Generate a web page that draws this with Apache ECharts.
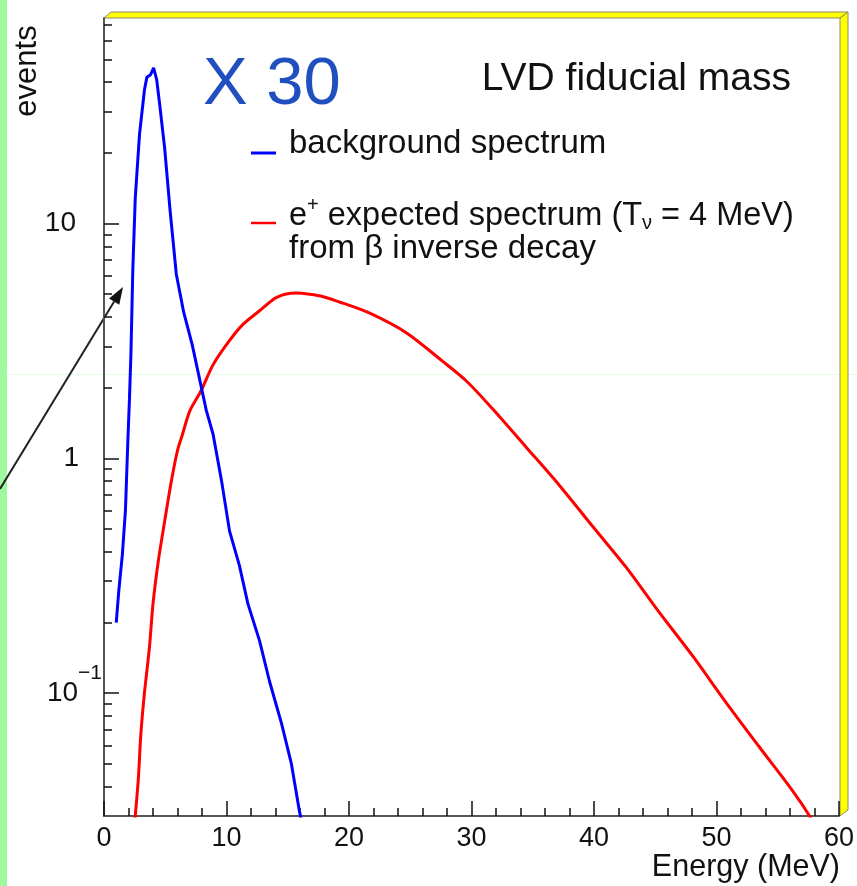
<!DOCTYPE html>
<html>
<head>
<meta charset="utf-8">
<script src="https://cdn.jsdelivr.net/npm/echarts@6/dist/echarts.min.js"></script>
<style>
  html, body { margin: 0; background: #fff; }
  #chart { width: 857px; height: 886px; }
</style>
</head>
<body>
<div id="chart"></div>
<script>
// background spectrum (blue)
const bgEnergy = [1.0, 1.2, 1.5, 1.75, 1.95, 2.08, 2.2, 2.35, 2.55, 2.9, 3.3, 3.5, 3.8, 4.05, 4.3, 4.55, 4.95, 5.4, 5.9, 6.5, 7.2, 7.9, 8.35, 8.9, 9.6, 10.25, 11.05, 11.75, 12.7, 13.5, 14.5, 15.3, 15.95, 16.3];
const bgEvents = [0.20, 0.27, 0.39, 0.6, 1.2, 1.8, 2.8, 6.3, 12.8, 24, 37, 42, 43, 46, 41, 32, 21, 11.3, 6.1, 4.2, 3.05, 2.06, 1.6, 1.27, 0.80, 0.49, 0.35, 0.24, 0.167, 0.113, 0.074, 0.050, 0.0315, 0.026];

// e+ expected spectrum (red)
const sigEnergy = [2.5, 2.8, 3.0, 3.3, 3.7, 4.0, 4.4, 4.9, 5.5, 6.0, 6.4, 7.0, 7.9, 8.9, 10.0, 11.3, 12.7, 14.1, 15.7, 16.8, 17.9, 19.5, 21.7, 24.7, 27.6, 29.6, 31.7, 34.5, 37.2, 40.0, 42.6, 45.3, 48.1, 50.8, 53.5, 56.2, 57.6, 58.2];
const sigEvents = [0.028, 0.043, 0.066, 0.10, 0.155, 0.24, 0.355, 0.52, 0.80, 1.08, 1.26, 1.59, 1.93, 2.5, 3.05, 3.7, 4.25, 4.85, 5.06, 5.0, 4.88, 4.58, 4.15, 3.42, 2.6, 2.13, 1.63, 1.11, 0.765, 0.505, 0.345, 0.222, 0.143, 0.091, 0.059, 0.0385, 0.030, 0.026];

// axis ticks
const yMajorTicks = [0.1, 1, 10];
const yMinorTicks = [0.04, 0.05, 0.06, 0.07, 0.08, 0.09, 0.2, 0.3, 0.4, 0.5, 0.6, 0.7, 0.8, 0.9, 2, 3, 4, 5, 6, 7, 8, 9, 20, 30, 40, 50, 60, 70];

const FONT = 'Liberation Sans';

function drawChart() {
  let chart = echarts.init(document.getElementById('chart'));

  let bgData = bgEnergy.map((e, i) => [e, bgEvents[i]]);
  let sigData = sigEnergy.map((e, i) => [e, sigEvents[i]]);

  // arrow annotation (from the left edge to the curve)
  let a0 = [0, 489], a1 = [123, 287];
  let dx = a1[0] - a0[0], dy = a1[1] - a0[1];
  let len = Math.sqrt(dx * dx + dy * dy);
  let ux = dx / len, uy = dy / len;
  let bx = a1[0] - 17 * ux, by = a1[1] - 17 * uy;

  let option = {
    animation: false,
    backgroundColor: '#fff',
    grid: { left: 104, right: 16, top: 18, bottom: 70 },
    xAxis: {
      type: 'value', min: 0, max: 60, interval: 10,
      axisLine: { lineStyle: { color: '#555', width: 2 } },
      axisTick: { inside: true, length: 15, lineStyle: { color: '#111', width: 1.5 } },
      minorTick: { show: true, splitNumber: 5, length: 8, lineStyle: { color: '#111', width: 1.5 } },
      splitLine: { show: false },
      axisLabel: { fontFamily: FONT, fontSize: 27, color: '#111', margin: 9 }
    },
    yAxis: [
      {
        type: 'log', logBase: 10, min: 0.03, max: 75, position: 'left',
        axisLine: { show: true, lineStyle: { color: '#555', width: 2 } },
        axisTick: { show: true, inside: true, length: 15, customValues: yMajorTicks, lineStyle: { color: '#111', width: 1.5 } },
        splitLine: { show: false },
        axisLabel: {
          customValues: yMajorTicks, margin: 2, color: '#111',
          formatter: v => v > 5 ? '{a|10}' : v > 0.5 ? '{b|1}' : '{c|10}{s|\u22121}',
          rich: {
            a: { fontFamily: FONT, fontSize: 28, padding: [0, 26, 0, 0] },
            b: { fontFamily: FONT, fontSize: 28, padding: [0, 23, 0, 0] },
            c: { fontFamily: FONT, fontSize: 28 },
            s: { fontFamily: FONT, fontSize: 21, padding: [0, 0, 40, 0] }
          }
        }
      },
      {
        type: 'log', logBase: 10, min: 0.03, max: 75, position: 'left', offset: 0,
        axisLine: { show: false },
        axisTick: { show: true, inside: true, length: 8, customValues: yMinorTicks, lineStyle: { color: '#111', width: 1.5 } },
        axisLabel: { show: false },
        splitLine: { show: false }
      }
    ],
    series: [
      {
        name: 'e+ expected spectrum', type: 'line', data: sigData,
        showSymbol: false, clip: true, smooth: 0.3,
        lineStyle: { color: '#ff0000', width: 3 }
      },
      {
        name: 'background spectrum', type: 'line', data: bgData,
        showSymbol: false, clip: true,
        lineStyle: { color: '#0000ff', width: 3 }
      }
    ],
    graphic: [
      // green strip on the left and faint guide line
      { type: 'rect', z: -10, shape: { x: 0, y: 0, width: 7, height: 886 }, style: { fill: '#9ff99f' } },
      { type: 'line', z: -10, shape: { x1: 7, y1: 374.5, x2: 857, y2: 374.5 }, style: { stroke: '#e4fbe4', lineWidth: 1 } },
      // frame border (yellow bevel at top and right)
      { type: 'polygon', shape: { points: [[104, 18], [111, 12], [848, 12], [840, 18]] }, style: { fill: '#ffff00', stroke: '#8a8a6a', lineWidth: 1 } },
      { type: 'polygon', shape: { points: [[840, 18], [848, 12], [848, 810], [840, 816]] }, style: { fill: '#ffff00', stroke: '#8a8a6a', lineWidth: 1 } },
      // arrow
      { type: 'line', shape: { x1: a0[0], y1: a0[1], x2: bx, y2: by }, style: { stroke: '#222', lineWidth: 2 } },
      { type: 'polygon', shape: { points: [[a1[0], a1[1]], [bx - 6 * uy, by + 6 * ux], [bx + 6 * uy, by - 6 * ux]] }, style: { fill: '#111' } },
      // texts
      { type: 'text', x: 203, y: 86, style: { text: 'X 30', fontFamily: FONT, fontSize: 67, fill: '#2050c0', verticalAlign: 'middle' } },
      { type: 'text', x: 791, y: 79, style: { text: 'LVD fiducial mass', fontFamily: FONT, fontSize: 39, fill: '#111', align: 'right', verticalAlign: 'middle' } },
      { type: 'line', shape: { x1: 251, y1: 153, x2: 276, y2: 153 }, style: { stroke: '#0000ff', lineWidth: 3 } },
      { type: 'text', x: 289, y: 144, style: { text: 'background spectrum', fontFamily: FONT, fontSize: 33, fill: '#111', verticalAlign: 'middle' } },
      { type: 'line', shape: { x1: 251, y1: 223, x2: 276, y2: 223 }, style: { stroke: '#ff0000', lineWidth: 2.5 } },
      {
        type: 'text', x: 289, y: 216,
        style: {
          text: '{t|e}{sup|+}{t| expected spectrum (T}{sub|\u03bd}{t| = 4 MeV)}',
          fill: '#111', verticalAlign: 'middle',
          rich: {
            t: { fontFamily: FONT, fontSize: 32.5 },
            sup: { fontFamily: FONT, fontSize: 20, padding: [0, 0, 22, 0] },
            sub: { fontFamily: FONT, fontSize: 20, padding: [14, 0, 0, 0] }
          }
        }
      },
      { type: 'text', x: 289, y: 249, style: { text: 'from \u03b2 inverse decay', fontFamily: FONT, fontSize: 33, fill: '#111', verticalAlign: 'middle' } },
      { type: 'text', x: 840, y: 868, style: { text: 'Energy (MeV)', fontFamily: FONT, fontSize: 30.5, fill: '#111', align: 'right', verticalAlign: 'middle' } },
      { type: 'text', x: 27, y: 71, rotation: Math.PI / 2, style: { text: 'events', fontFamily: FONT, fontSize: 31, fill: '#111', align: 'center', verticalAlign: 'middle' } }
    ]
  };

  chart.setOption(option);
}

window.addEventListener('load', drawChart);
</script>
</body>
</html>
